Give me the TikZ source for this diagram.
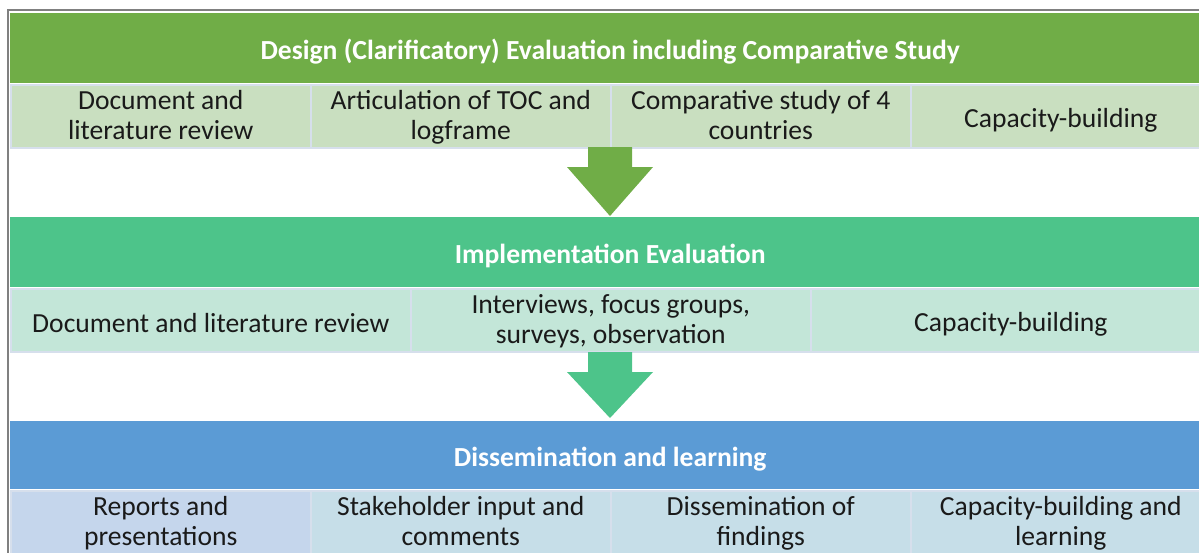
\documentclass[tikz,border=0pt]{standalone}
\usepackage{fontspec}
\setmainfont{Carlito}
\definecolor{hgreen}{HTML}{70AD47}
\definecolor{lgreen}{HTML}{C9DFC0}
\definecolor{hteal}{HTML}{4DC48A}
\definecolor{lteal}{HTML}{C3E6D8}
\definecolor{hblue}{HTML}{5B9BD5}
\definecolor{lblueA}{HTML}{C5D6EC}
\definecolor{lblueB}{HTML}{C6DEE8}
\definecolor{sepc}{HTML}{D6DFEC}
\definecolor{framec}{HTML}{808080}
\definecolor{txtc}{HTML}{1A1A1A}
\newcommand{\cf}{\fontsize{27.6}{30}\selectfont}
\newcommand{\sst}{\rule[-7pt]{0pt}{30pt}}
\newcommand{\sso}{\rule[-3pt]{0pt}{30pt}}
\begin{document}
\begin{tikzpicture}[x=1pt,y=-1pt,
  hdr/.style={anchor=north west, inner sep=0pt, minimum width=1200, text=white, font=\cf\bfseries},
  cellbox/.style={anchor=north west, inner sep=0pt, draw=sepc, line width=1.5pt, align=center, text=txtc, font=\cf}]
\useasboundingbox (0,0) rectangle (1199,552);
\draw[framec, line width=2pt] (8,560) -- (8,10) -- (1210,10);
% stage 1
\node[hdr, fill=hgreen, minimum height=70] (h1) at (10,13) {Design (Clarificatory) Evaluation including Comparative Study\sso};
\node[cellbox, fill=lgreen, minimum width=300, minimum height=63] (a1) at (10,84) {Document and\sst\\literature review\sst};
\node[cellbox, fill=lgreen, minimum width=300, minimum height=63] (a2) at (310,84) {Articulation of TOC and\sst\\logframe\sst};
\node[cellbox, fill=lgreen, minimum width=300, minimum height=63] (a3) at (610,84) {Comparative study of 4\sst\\countries\sst};
\node[cellbox, fill=lgreen, minimum width=300, minimum height=63] (a4) at (910,84) {Capacity-building\sso};
% arrow 1
\fill[hgreen] (588,147) -- (632,147) -- (632,167) -- (653,167) -- (610,216) -- (567,167) -- (588,167) -- cycle;
% stage 2
\node[hdr, fill=hteal, minimum height=70] (h2) at (10,217) {Implementation Evaluation\sso};
\node[cellbox, fill=lteal, minimum width=400, minimum height=63] (b1) at (10,288) {Document and literature review\sso};
\node[cellbox, fill=lteal, minimum width=400, minimum height=63] (b2) at (410,288) {Interviews, focus groups,\sst\\surveys, observation\sst};
\node[cellbox, fill=lteal, minimum width=400, minimum height=63] (b3) at (810,288) {Capacity-building\sso};
% arrow 2
\fill[hteal] (588,352) -- (632,352) -- (632,372) -- (653,372) -- (610,418) -- (567,372) -- (588,372) -- cycle;
% stage 3
\node[hdr, fill=hblue, minimum height=68] (h3) at (10,421) {Dissemination and learning\sso};
\node[cellbox, fill=lblueA, minimum width=300, minimum height=64] (c1) at (10,490) {Reports and\sst\\presentations\sst};
\node[cellbox, fill=lblueB, minimum width=300, minimum height=64] (c2) at (310,490) {Stakeholder input and\sst\\comments\sst};
\node[cellbox, fill=lblueB, minimum width=300, minimum height=64] (c3) at (610,490) {Dissemination of\sst\\findings\sst};
\node[cellbox, fill=lblueB, minimum width=300, minimum height=64] (c4) at (910,490) {Capacity-building and\sst\\learning\sst};
\end{tikzpicture}
\end{document}
